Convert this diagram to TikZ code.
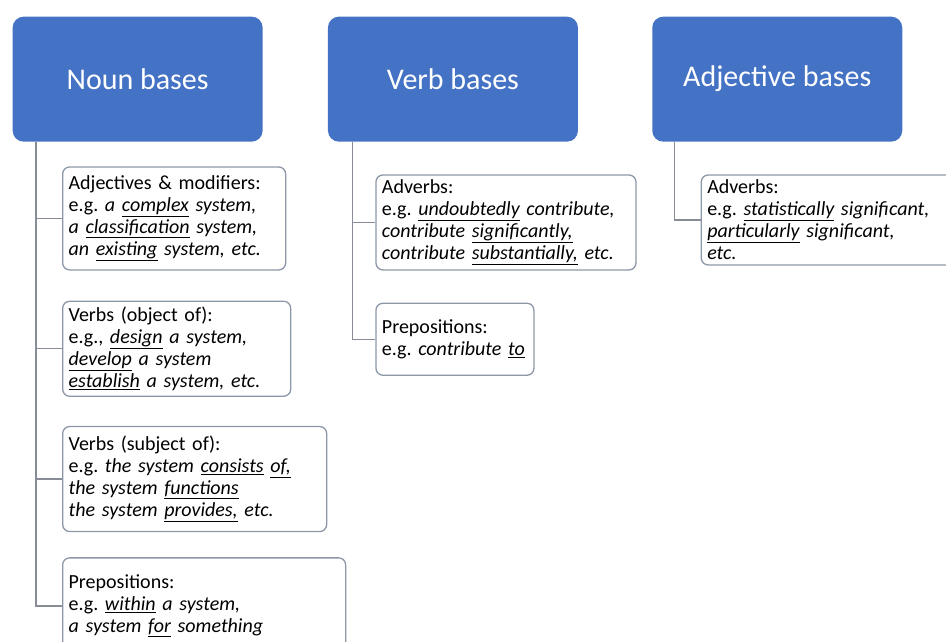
\documentclass[tikz,border=0pt]{standalone}
\usepackage{fontspec}
\setmainfont{Carlito}
\usepackage{tikz}
\usetikzlibrary{positioning}
\definecolor{hdrblue}{RGB}{68,114,196}
\definecolor{boxline}{RGB}{140,152,168}
\definecolor{linkgray}{RGB}{135,140,150}
\newcommand{\kw}[1]{\underline{#1}}
\frenchspacing

\begin{document}
\begin{tikzpicture}[x=1pt,y=1pt,line width=1.3pt,node distance=30pt]
  \tikzstyle{base}=[fill=hdrblue,draw=none,rounded corners=11pt,text=white,
                    minimum width=250pt,minimum height=125pt,inner sep=0pt,
                    font=\fontsize{30}{36}\selectfont]
  \tikzstyle{item}=[draw=boxline,fill=white,rounded corners=7pt,align=left,
                    inner xsep=6pt,inner ysep=0pt,
                    font=\fontsize{20}{22}\selectfont]
  \tikzstyle{link}=[draw=linkgray]

  \useasboundingbox (0,0) rectangle (946,-642);
  \clip (0,0) rectangle (946,-642);

  % headers
  \node[base,anchor=north west] (N) at (12,-16) {Noun bases};
  \node[base]  (V) [right=64pt of N]  {Verb bases};
  \node[base]  (A) [right=73pt of V]  {Adjective bases};

  % noun column
  \node[item,text width=211pt,minimum height=103pt] (n1)
       [below right=24pt and 50pt of N.south west]
       {Adjectives \& modifiers:\\
        e.g. \textit{a \kw{complex} system,}\\
        \textit{a \kw{classification} system,}\\
        \textit{an \kw{existing} system, etc.}};
  \node[item,text width=216pt,minimum height=95pt] (n2)
       [below=30pt of n1.south west,anchor=north west]
       {Verbs (object of):\\
        e.g., \textit{\kw{design} a system,}\\
        \textit{\kw{develop} a system}\\
        \textit{\kw{establish} a system, etc.}};
  \node[item,text width=252pt,minimum height=105pt] (n3)
       [below=29pt of n2.south west,anchor=north west]
       {Verbs (subject of):\\
        e.g. \textit{the system \kw{consists} \kw{of,}}\\
        \textit{the system \kw{functions}}\\
        \textit{the system \kw{provides,} etc.}};
  \node[item,text width=271pt,minimum height=96pt] (n4)
       [below=25pt of n3.south west,anchor=north west]
       {Prepositions:\\
        e.g. \textit{\kw{within} a system,}\\
        \textit{a system \kw{for} something}};

  % verb column
  \node[item,text width=248pt,minimum height=95pt] (v1)
       [below right=32pt and 48pt of V.south west]
       {Adverbs:\\
        e.g. \textit{\kw{undoubtedly} contribute,}\\
        \textit{contribute \kw{significantly,}}\\
        \textit{contribute \kw{substantially,} etc.}};
  \node[item,text width=146pt,minimum height=72pt] (v2)
       [below=32pt of v1.south west,anchor=north west]
       {Prepositions:\\
        e.g. \textit{contribute \kw{to}}};

  % adjective column
  \node[item,text width=260pt,minimum height=90pt] (a1)
       [below right=32pt and 49pt of A.south west]
       {Adverbs:\\
        e.g. \textit{\kw{statistically} significant,}\\
        \textit{\kw{particularly} significant,}\\
        \textit{etc.}};

  \draw[link] ([xshift=24pt]N.south west) |- (n1.west);
  \draw[link] ([xshift=24pt]N.south west) |- (n2.west);
  \draw[link] ([xshift=24pt]N.south west) |- (n3.west);
  \draw[link] ([xshift=24pt]N.south west) |- (n4.west);
  \draw[link] ([xshift=25pt]V.south west) |- (v1.west);
  \draw[link] ([xshift=25pt]V.south west) |- (v2.west);
  \draw[link] ([xshift=23pt]A.south west) |- (a1.west);
\end{tikzpicture}
\end{document}
